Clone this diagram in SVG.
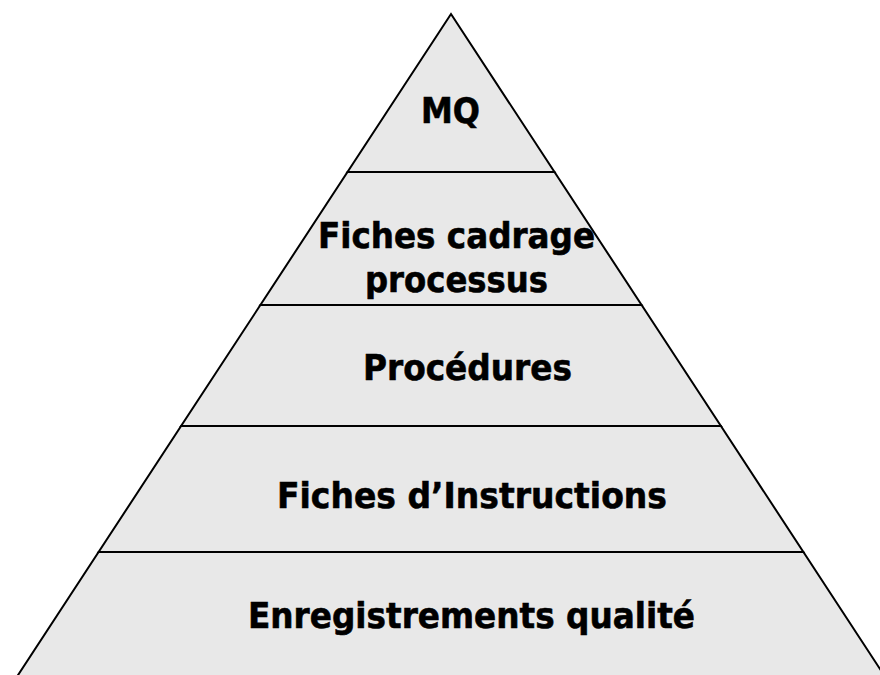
<svg xmlns="http://www.w3.org/2000/svg" width="880" height="675" viewBox="0 0 880 675">
  <style>
    .tier { fill: #e8e8e8; stroke: #000; stroke-width: 2; stroke-linejoin: miter; }
    .lbl { font-family: "DejaVu Sans", "Liberation Sans", sans-serif; font-weight: bold; font-size: 35px; fill: #000; stroke: #000; stroke-width: 0.6; }
  </style>
  <rect x="0" y="0" width="880" height="675" fill="#ffffff"/>
  <g id="tier-mq">
    <polygon class="tier" points="451,14 554.5,172 347.5,172"/>
    <text class="lbl" x="421" y="123" textLength="59" lengthAdjust="spacingAndGlyphs">MQ</text>
  </g>
  <g id="tier-fiches-cadrage">
    <polygon class="tier" points="347.5,172 554.5,172 641.6,305 260.4,305"/>
    <text class="lbl" x="318" y="248" textLength="277" lengthAdjust="spacingAndGlyphs">Fiches cadrage</text>
    <text class="lbl" x="365" y="292" textLength="183" lengthAdjust="spacingAndGlyphs">processus</text>
  </g>
  <g id="tier-procedures">
    <polygon class="tier" points="260.4,305 641.6,305 720.9,426 181.1,426"/>
    <text class="lbl" x="363" y="380" textLength="209" lengthAdjust="spacingAndGlyphs">Procédures</text>
  </g>
  <g id="tier-instructions">
    <polygon class="tier" points="181.1,426 720.9,426 803.4,552 98.6,552"/>
    <text class="lbl" x="277" y="508" textLength="390" lengthAdjust="spacingAndGlyphs">Fiches d’Instructions</text>
  </g>
  <g id="tier-enregistrements">
    <polygon class="tier" points="98.6,552 803.4,552 900.3,700 1.7,700"/>
    <text class="lbl" x="248" y="628" textLength="447" lengthAdjust="spacingAndGlyphs">Enregistrements qualité</text>
  </g>
  <g id="connectors"></g>
</svg>
